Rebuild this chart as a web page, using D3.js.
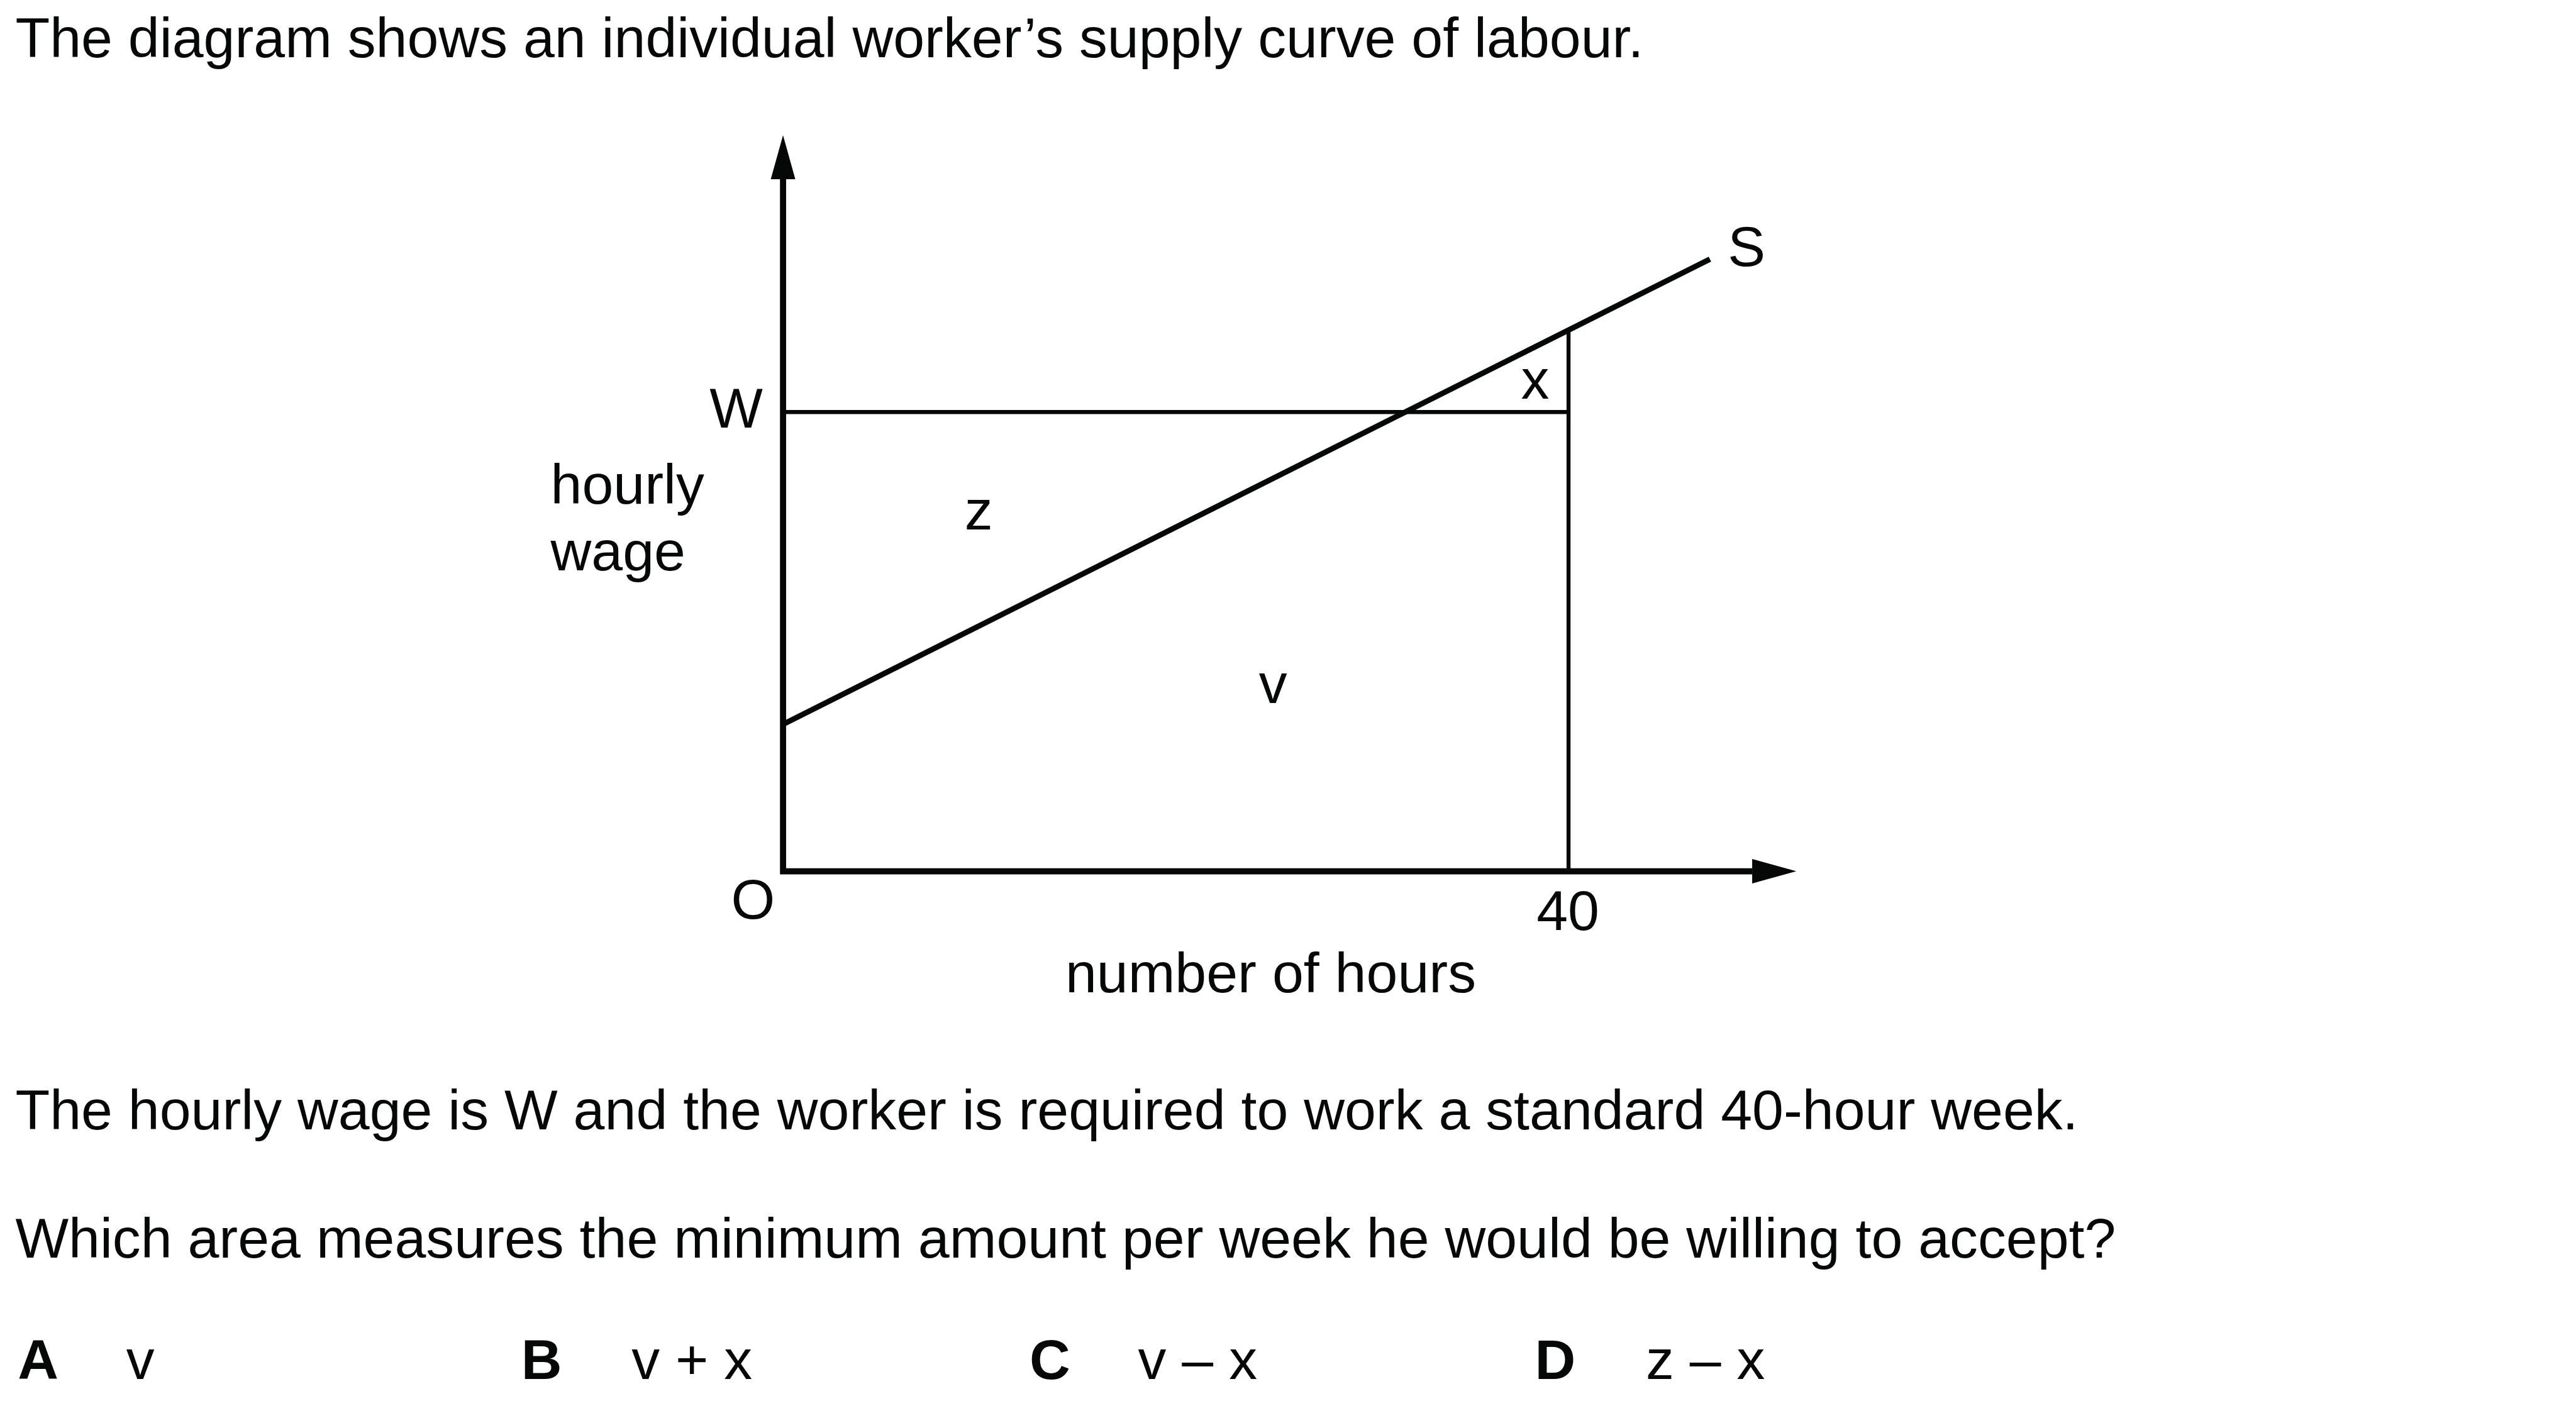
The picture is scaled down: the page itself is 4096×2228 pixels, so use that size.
<!DOCTYPE html>
<html>
<head>
<meta charset="utf-8">
<script src="https://cdn.jsdelivr.net/npm/d3@7"></script>
<style>
  html, body { margin: 0; padding: 0; background: #ffffff; }
  svg { display: block; }
  text { font-family: "Liberation Sans", Arial, Helvetica, sans-serif; fill: #050807; }
</style>
</head>
<body>
<script>
// ---------------- data ----------------
const textLines = [
  "The diagram shows an individual worker\u2019s supply curve of labour.",
  "The hourly wage is W and the worker is required to work a standard 40-hour week.",
  "Which area measures the minimum amount per week he would be willing to accept?"
];
const optionLetters = ["A", "B", "C", "D"];
const optionAnswers = ["v", "v + x", "v \u2013 x", "z \u2013 x"];

const supplyHours = [0, 47.2];      // supply curve S end points (hours)
const supplyWages = [3.2, 13.33];   // hourly wage at those hours
const wageW = 10;                   // the wage level W
const standardHours = 40;           // standard week
const axisMaxHours = 51.6;          // x-axis arrow tip
const axisMaxWage = 16.03;          // y-axis arrow tip
const xTickLabels = [{ value: 40, label: "40" }];
const yTickLabels = [{ value: 10, label: "W" }];
const areaLabels = [
  { name: "z", hours: 9.96, wage: 7.44 },
  { name: "v", hours: 24.95, wage: 3.67 },
  { name: "x", hours: 38.3, wage: 10.29 }
];

// ---------------- drawing ----------------
const W = 4201, H = 2285;
const ink = "#050807";
const fs = 92;

const svg = d3.select("body").append("svg")
  .attr("width", 4096).attr("height", 2228)
  .attr("viewBox", `0 0 ${W} ${H}`);

const x = d3.scaleLinear().domain([0, 40]).range([1277, 2558]);
const y = d3.scaleLinear().domain([0, 10]).range([1421, 672]);

// interpolate S at a given hour (linear curve through its end points)
const sAt = h => supplyWages[0] + (supplyWages[1] - supplyWages[0]) * (h - supplyHours[0]) / (supplyHours[1] - supplyHours[0]);

const g = svg.append("g");

// W horizontal line and 40 vertical line (thin)
g.append("line")
  .attr("x1", x(0)).attr("x2", x(standardHours) + 3)
  .attr("y1", y(wageW)).attr("y2", y(wageW))
  .attr("stroke", ink).attr("stroke-width", 6.5);
g.append("line")
  .attr("x1", x(standardHours)).attr("x2", x(standardHours))
  .attr("y1", y(0)).attr("y2", y(sAt(standardHours)))
  .attr("stroke", ink).attr("stroke-width", 6.5);

// Supply curve S
const sData = supplyHours.map((h, i) => [h, supplyWages[i]]);
g.append("path")
  .attr("d", d3.line().x(d => x(d[0])).y(d => y(d[1]))(sData))
  .attr("fill", "none").attr("stroke", ink).attr("stroke-width", 9)
  .attr("stroke-linecap", "butt");

// Axes
const arrowLen = 72, arrowHalf = 20;
const xTip = x(axisMaxHours), yTip = y(axisMaxWage);
g.append("path")
  .attr("d", d3.line()([[x(0), yTip + arrowLen], [x(0), y(0)], [xTip - arrowLen, y(0)]]))
  .attr("fill", "none").attr("stroke", ink).attr("stroke-width", 10)
  .attr("stroke-linejoin", "miter");
g.append("path")
  .attr("d", d3.line()([[x(0), yTip], [x(0) - arrowHalf, yTip + arrowLen], [x(0) + arrowHalf, yTip + arrowLen]]) + "Z")
  .attr("fill", ink);
g.append("path")
  .attr("d", d3.line()([[xTip, y(0)], [xTip - arrowLen, y(0) - arrowHalf], [xTip - arrowLen, y(0) + arrowHalf]]) + "Z")
  .attr("fill", ink);

// tick labels
g.selectAll("text.xt").data(xTickLabels).join("text").attr("class", "xt")
  .attr("x", d => x(d.value) - 1).attr("y", y(0) + 96)
  .attr("text-anchor", "middle").attr("font-size", fs).text(d => d.label);
g.selectAll("text.yt").data(yTickLabels).join("text").attr("class", "yt")
  .attr("x", x(0) - 33).attr("y", d => y(d.value) + 25)
  .attr("text-anchor", "end").attr("font-size", fs).text(d => d.label);

// origin
g.append("text").attr("x", x(0) - 49).attr("y", y(0) + 77)
  .attr("text-anchor", "middle").attr("font-size", fs).text("O");

// axis titles
g.append("text").attr("x", 898).attr("y", 821).attr("font-size", fs).text("hourly");
g.append("text").attr("x", 898).attr("y", 930).attr("font-size", fs).text("wage");
g.append("text").attr("x", (x(0) + xTip) / 2 - 31).attr("y", y(0) + 197)
  .attr("text-anchor", "middle").attr("font-size", fs).text("number of hours");

// S label
g.append("text").attr("x", x(supplyHours[1]) + 29).attr("y", y(supplyWages[1]) + 11)
  .attr("font-size", fs).text("S");

// area labels
g.selectAll("text.area").data(areaLabels).join("text").attr("class", "area")
  .attr("x", d => x(d.hours)).attr("y", d => y(d.wage))
  .attr("text-anchor", "middle").attr("font-size", fs).text(d => d.name);

// question text
const lineY = [93, 1842, 2051];
svg.selectAll("text.q").data(textLines).join("text").attr("class", "q")
  .attr("x", 25).attr("y", (d, i) => lineY[i]).attr("font-size", fs).text(d => d);

// options
const letterX = [29, 850, 1679, 2503];
const answerX = [206, 1030, 1856, 2684];
svg.selectAll("text.ol").data(optionLetters).join("text").attr("class", "ol")
  .attr("x", (d, i) => letterX[i]).attr("y", 2249)
  .attr("font-size", fs).attr("font-weight", "bold").text(d => d);
svg.selectAll("text.oa").data(optionAnswers).join("text").attr("class", "oa")
  .attr("x", (d, i) => answerX[i]).attr("y", 2249)
  .attr("font-size", fs).text(d => d);
</script>
</body>
</html>
